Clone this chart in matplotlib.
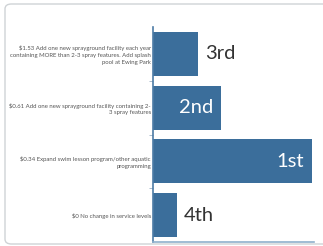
import matplotlib.pyplot as plt
import numpy as np
from matplotlib.patches import FancyBboxPatch

plt.rcParams['font.family'] = ['Lato', 'DejaVu Sans']

# data (top to bottom)
options = [
    "\\$1.53 Add one new sprayground facility each year\ncontaining MORE than 2-3 spray features. Add splash\npool at Ewing Park",
    "\\$0.61 Add one new sprayground facility containing 2-\n3 spray features",
    "\\$0.34 Expand swim lesson program/other aquatic\nprogramming",
    "\\$0 No change in service levels",
]
scores = [2.1, 3.17, 7.4, 1.12]
ranks = ["3rd", "2nd", "1st", "4th"]

bar_color = "#3b6e9b"

fig = plt.figure(figsize=(3.23, 2.46), dpi=100)

# card outline
card = FancyBboxPatch((5 / 323, 2 / 246), 1.2, 240 / 246,
                      boxstyle="round,pad=0,rounding_size=0.02",
                      transform=fig.transFigure, facecolor="white",
                      edgecolor="#cfd3d6", linewidth=1.0, zorder=-10)
fig.patches.append(card)

ax = fig.add_axes([153 / 323, 4 / 246, 161 / 323, 215 / 246])
ax.set_facecolor("none")

y = np.arange(len(options))
ax.barh(y, scores, height=0.82, color=bar_color)
ax.set_ylim(len(options) - 0.5, -0.5)
ax.set_xlim(0, 7.5)

ax.set_yticks(y, options, fontsize=4.35, color="#555555", linespacing=1.45)
ax.tick_params(axis="y", length=0, pad=1.5)
ax.set_yticks(np.arange(0.5, len(options) - 0.5, 1), minor=True)
ax.tick_params(axis="y", which="minor", length=3, width=0.6, color="#9ab0c4")
ax.set_xticks([])

for s in ["top", "right"]:
    ax.spines[s].set_visible(False)
ax.spines["left"].set_color("#4d7ca6")
ax.spines["left"].set_linewidth(1.2)
ax.spines["bottom"].set_color("#8fb0cc")
ax.spines["bottom"].set_linewidth(1.2)

for i, (v, r) in enumerate(zip(scores, ranks)):
    if v > 3:
        ax.text(v - 0.37, i, r, ha="right", va="center", fontsize=14.5,
                color="white")
    else:
        ax.text(v + 0.33, i, r, ha="left", va="center", fontsize=14.5,
                color="#333333")

fig.savefig("out.png", dpi=100)
